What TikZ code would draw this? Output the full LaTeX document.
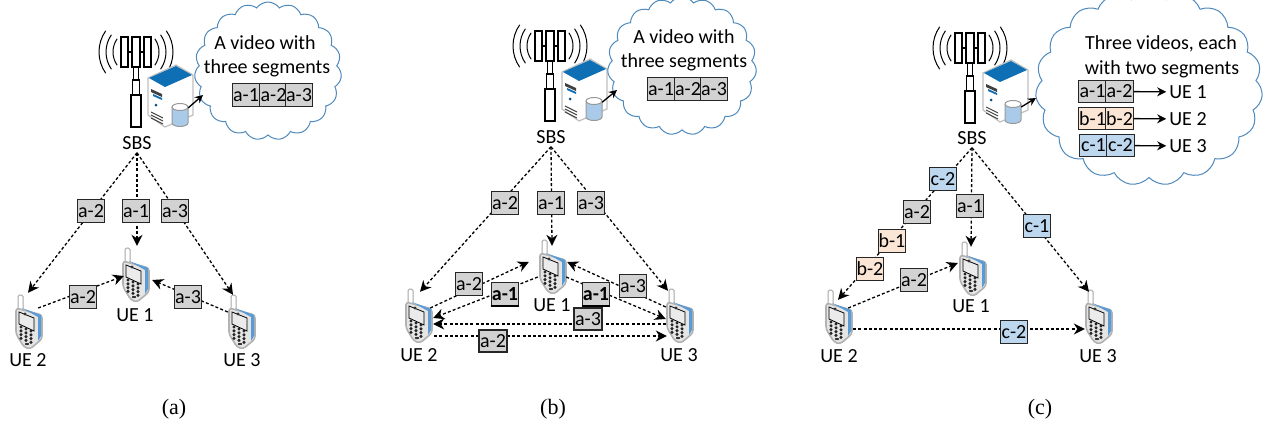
\documentclass[tikz,border=0pt]{standalone}
\usepackage{fontspec}
\setmainfont{Carlito}
\newfontfamily\capfont{Liberation Serif}
\usetikzlibrary{arrows.meta,shapes.symbols}
\definecolor{segGray}{HTML}{D2D2D2}
\definecolor{segPeach}{HTML}{FBE5D5}
\definecolor{segBlue}{HTML}{BDD7EE}
\definecolor{cloudLine}{HTML}{4F8ABD}
\definecolor{srvBlue}{HTML}{0F6FB5}
\definecolor{phoneBlue}{HTML}{5B9BD5}
\tikzset{
  txt/.style={inner sep=3pt,font=\fontsize{20}{22}\selectfont},
  captxt/.style={inner sep=1pt,font=\capfont\fontsize{22}{24}\selectfont},
  seg/.style={draw=black!85,line width=1.1pt,minimum width=27.5pt,minimum height=22.5pt,inner sep=0pt,font=\fontsize{20}{22}\selectfont},
  grayseg/.style={seg,fill=segGray},
  peachseg/.style={seg,fill=segPeach},
  blueseg/.style={seg,fill=segBlue},
  boldseg/.style={grayseg,font=\fontsize{20}{22}\selectfont\bfseries},
  thickseg/.style={grayseg,line width=2.4pt},
  link/.style={line width=1.3pt,dash pattern=on 3pt off 2.2pt},
  linkto/.style={link,-{Stealth[length=11pt,width=11pt]}},
  bubble/.style={cloud,cloud puffs=19,cloud puff arc=110,draw=cloudLine,line width=1pt,fill=white,inner sep=0pt},
  dbbox/.style={minimum width=16pt,minimum height=22pt,inner sep=0pt},
  phonebox/.style={minimum width=30pt,minimum height=54pt,inner sep=0pt},
  tower/.pic={
    \draw[line width=1.1pt,fill=white] (-15,0) rectangle (-8,30);
    \draw[line width=1.1pt,fill=white] (8,0) rectangle (15,30);
    \draw[line width=1.1pt] (-8,15) -- (8,15);
    \draw[line width=1.1pt,fill=white] (-4,0) rectangle (4,30);
    \draw[line width=1.1pt,fill=white] (-2.5,30) rectangle (2.5,43);
    \draw[line width=1.1pt,fill=white] (-3.5,43) rectangle (3.5,58);
    \draw[line width=1.1pt,fill=white] (-5,58) rectangle (5,90);
    \foreach \r in {23,30,37} {
      \draw[line width=1pt] ({-\r*cos(35)},{15+\r*sin(35)}) arc[start angle=145,end angle=215,radius=\r];
      \draw[line width=1pt] ({\r*cos(35)},{15+\r*sin(35)}) arc[start angle=35,end angle=-35,radius=\r];
    }
  },
  server/.pic={
    \draw[black!25,line width=1.2pt,fill=white] (0,13) -- (28,0) -- (45,10) -- (45,50) -- (17,62) -- (0,50) -- cycle;
    \fill[srvBlue] (1,13) -- (28,1) -- (44,10) -- (17,22) -- cycle;
    \fill[black!75] (3,24) -- (14,29) -- (14,32) -- (3,27) -- cycle;
    \fill[srvBlue] (5,29) -- (14,33) -- (14,35) -- (5,31) -- cycle;
    \fill[srvBlue!70!black] (8,40) circle (1.5);
    \draw[black!75,line width=.9pt] (3,47) -- (15,53) (3,50) -- (15,56) (3,53) -- (15,59);
  },
  dbase/.pic={
    \draw[black!40,line width=1pt,fill=segBlue!80!phoneBlue] (-8,-8) -- (-8,8) arc[start angle=180,end angle=360,x radius=8,y radius=-3.5] -- (8,-8);
    \draw[black!40,line width=1pt,fill=white] (0,-8) ellipse (8 and 3.5);
  },
  phone/.pic={
    \draw[black!35,line width=1pt,fill=white,rounded corners=1.5pt] (-10,-27) rectangle (-5,-11);
    \draw[black!30,line width=1.6pt,fill=black!10,rounded corners=3pt]
      (-12,-14) -- (14,-7) -- (14,17) -- (2,27) -- (-4,25) -- (-12,12) -- cycle;
    \fill[phoneBlue] (-6,-14) -- (13,-7) -- (13,14) -- (10,19) -- (10,-5) -- cycle;
    \draw[black,line width=.8pt,fill=black!8] (-9,-10) -- (6,-4) -- (6,9) -- (-9,2) -- cycle;
    \fill[black!80] (-3,-8) circle (1.7);
    \foreach \c in {0,1,2,3} {
      \foreach \d in {0,1,2} {
        \fill[black!85] ({-7+\d*5},{5+\c*3.8+\d*2}) circle (1.7);
      }
    }
    \fill[black!80] (-1,22) ellipse (2.2 and 1.1);
  }
}
\begin{document}
\begin{tikzpicture}[x=1pt,y=-1pt]
\useasboundingbox (0,0) rectangle (1268,426);

% panel a
\pic at (136,37) {tower};
\pic at (148,65) {server};
\node [bubble,aspect=1.2,minimum width=147pt,minimum height=138pt] (clouda) at (268,71) {};
\node [dbbox] (dba) at (180,115) {};
\pic at (dba) {dbase};
\coordinate (tipa) at (203,95);
\draw [line width=1.3pt,-{Stealth[length=8pt,width=8pt]}] (dba) -- (tipa);
\node [txt] (titlea1) at (265,43) {A video with};
\node [txt] (titlea2) at (267,68) {three segments};
\node [grayseg] (stora1) at (246,95) {a-1};
\node [grayseg] (stora2) at (273.5,95) {a-2};
\node [grayseg] (stora3) at (299,95) {a-3};
\node [txt] (sbsa) at (137,143) {SBS};
\node [phonebox] (ue1a) at (135,275) {};
\node [phonebox] (ue2a) at (28,322) {};
\node [phonebox] (ue3a) at (241,322) {};
\pic at (ue1a) {phone};
\pic at (ue2a) {phone};
\pic at (ue3a) {phone};
\node [txt] (lab1a) at (135,315) {UE 1};
\node [txt] (lab2a) at (28,360) {UE 2};
\node [txt] (lab3a) at (242,360) {UE 3};
\draw [linkto] (sbsa.south) -- ([yshift=2pt]ue2a.north);
\draw [linkto] (sbsa.south) -- ([xshift=2pt,yshift=2pt]ue1a.north);
\draw [linkto] (sbsa.south) -- ([xshift=-8pt]ue3a.north);
\draw [linkto] ([xshift=-5pt,yshift=14pt]ue2a.east) -- ([xshift=4pt,yshift=-1pt]ue1a.west);
\draw [linkto] ([xshift=2pt,yshift=10pt]ue3a.west) -- ([xshift=2pt,yshift=-5pt]ue1a.east);
\node [grayseg] (a2a) at (91,211) {a-2};
\node [grayseg] (a1a) at (136,211) {a-1};
\node [grayseg] (a3a) at (175,211) {a-3};
\node [grayseg] (d2a) at (83,297) {a-2};
\node [grayseg] (d3a) at (188,297) {a-3};

% panel b
\pic at (550,31) {tower};
\pic at (562,59) {server};
\node [bubble,aspect=1.2,minimum width=149pt,minimum height=138pt] (cloudb) at (682,66) {};
\node [dbbox] (dbb) at (594,109) {};
\pic at (dbb) {dbase};
\coordinate (tipb) at (617,90);
\draw [line width=1.3pt,-{Stealth[length=8pt,width=8pt]}] (dbb) -- (tipb);
\node [txt] (titleb1) at (684,37) {A video with};
\node [txt] (titleb2) at (684,62) {three segments};
\node [grayseg] (storb1) at (661,89) {a-1};
\node [grayseg] (storb2) at (688,89) {a-2};
\node [grayseg] (storb3) at (714,89) {a-3};
\node [txt] (sbsb) at (551,137) {SBS};
\node [phonebox] (ue1b) at (552,267) {};
\node [phonebox] (ue2b) at (418,316) {};
\node [phonebox] (ue3b) at (679,316) {};
\pic at (ue1b) {phone};
\pic at (ue2b) {phone};
\pic at (ue3b) {phone};
\node [txt] (lab1b) at (552,305) {UE 1};
\node [txt] (lab2b) at (419,355) {UE 2};
\node [txt] (lab3b) at (679,355) {UE 3};
\draw [linkto] (sbsb.south) -- ([xshift=2pt,yshift=-3pt]ue2b.north);
\draw [linkto] (sbsb.south) -- ([yshift=-6pt]ue1b.north);
\draw [linkto] (sbsb.south) -- ([xshift=-11pt,yshift=-2pt]ue3b.north);
\draw [linkto] ([xshift=-3pt,yshift=8pt]ue2b.east) -- ([xshift=-8pt,yshift=5pt]ue1b.west);
\draw [linkto] ([xshift=1pt,yshift=-10pt]ue1b.west) -- ([yshift=-2pt]ue2b.east);
\draw [linkto] ([xshift=-1pt,yshift=-10pt]ue1b.east) -- ([xshift=2pt,yshift=-3pt]ue3b.west);
\draw [linkto] ([xshift=2pt,yshift=9pt]ue3b.west) -- ([yshift=5pt]ue1b.east);
\draw [linkto] ([xshift=2pt,yshift=-8pt]ue3b.west) -- ([yshift=-8pt]ue2b.east);
\draw [linkto] ([xshift=1pt,yshift=-20pt]ue2b.east) -- ([xshift=3pt,yshift=-20pt]ue3b.west);
\node [grayseg] (a2b) at (505,203) {a-2};
\node [grayseg] (a1b) at (551,203) {a-1};
\node [grayseg] (a3b) at (591,203) {a-3};
\node [grayseg] (d2b) at (469,284) {a-2};
\node [boldseg] (e1b) at (505,294) {a-1};
\node [boldseg] (f1b) at (596,294) {a-1};
\node [grayseg] (d3b) at (633,286) {a-3};
\node [thickseg] (g3b) at (588,319) {a-3};
\node [thickseg] (h2b) at (493,341) {a-2};
\draw [line width=1.8pt] (e1b.south west) -- (e1b.south east);
\draw [line width=1.8pt] (f1b.south west) -- (f1b.south east);

% panel c
\pic at (970,33) {tower};
\pic at (983,60) {server};
\node [bubble,aspect=1.5,minimum width=227pt,minimum height=195pt] (cloudc) at (1149,88) {};
\node [dbbox] (dbc) at (1013,112) {};
\pic at (dbc) {dbase};
\coordinate (tipc) at (1036,98);
\draw [line width=1.3pt,-{Stealth[length=8pt,width=8pt]}] (dbc) -- (tipc);
\node [txt] (titlec1) at (1161,44) {Three videos, each};
\node [txt] (titlec2) at (1162,69) {with two segments};
\node [grayseg] (stora) at (1092.5,91.5) {a-1};
\node [grayseg] (storb) at (1119.5,91.5) {a-2};
\node [peachseg] (storc) at (1092.5,118.5) {b-1};
\node [peachseg] (stord) at (1119.5,118.5) {b-2};
\node [blueseg] (store) at (1093.5,145.5) {c-1};
\node [blueseg] (storf) at (1120.5,145.5) {c-2};
\node [txt] (tou1) at (1188,92) {UE 1};
\node [txt] (tou2) at (1188,119) {UE 2};
\node [txt] (tou3) at (1188,146) {UE 3};
\draw [line width=1.3pt,-{Stealth[length=9pt,width=9pt]}] (storb) -- (tou1);
\draw [line width=1.3pt,-{Stealth[length=9pt,width=9pt]}] (stord) -- (tou2);
\draw [line width=1.3pt,-{Stealth[length=9pt,width=9pt]}] (storf) -- (tou3);
\node [txt] (sbsc) at (972,138) {SBS};
\node [phonebox] (ue1c) at (972,269) {};
\node [phonebox] (ue2c) at (838,317) {};
\node [phonebox] (ue3c) at (1098,317) {};
\pic at (ue1c) {phone};
\pic at (ue2c) {phone};
\pic at (ue3c) {phone};
\node [txt] (lab1c) at (971,306) {UE 1};
\node [txt] (lab2c) at (839,356) {UE 2};
\node [txt] (lab3c) at (1098,356) {UE 3};
\draw [linkto] (sbsc.south) -- ([yshift=-10pt]ue2c.north);
\draw [linkto] (sbsc.south) -- ([xshift=-1pt,yshift=-5pt]ue1c.north);
\draw [linkto] (sbsc.south) -- ([xshift=-9pt,yshift=-2pt]ue3c.north);
\draw [linkto] ([xshift=-5pt,yshift=9pt]ue2c.east) -- ([xshift=1pt,yshift=6pt]ue1c.west);
\draw [linkto] ([yshift=-12pt]ue2c.east) -- ([xshift=2pt,yshift=-12pt]ue3c.west);
\node [blueseg] (c2c) at (943,179) {c-2};
\node [grayseg] (a2c) at (917,212) {a-2};
\node [peachseg] (b1c) at (892,241) {b-1};
\node [peachseg] (b2c) at (870,269) {b-2};
\node [grayseg] (a1c) at (970,206) {a-1};
\node [blueseg] (c1c) at (1037,226) {c-1};
\node [grayseg] (d2c) at (914,280) {a-2};
\node [blueseg] (e2c) at (1014,332) {c-2};

% captions
\node [captxt] (capa) at (174,409) {(a)};
\node [captxt] (capb) at (553,409) {(b)};
\node [captxt] (capc) at (1040,409) {(c)};
\end{tikzpicture}
\end{document}
